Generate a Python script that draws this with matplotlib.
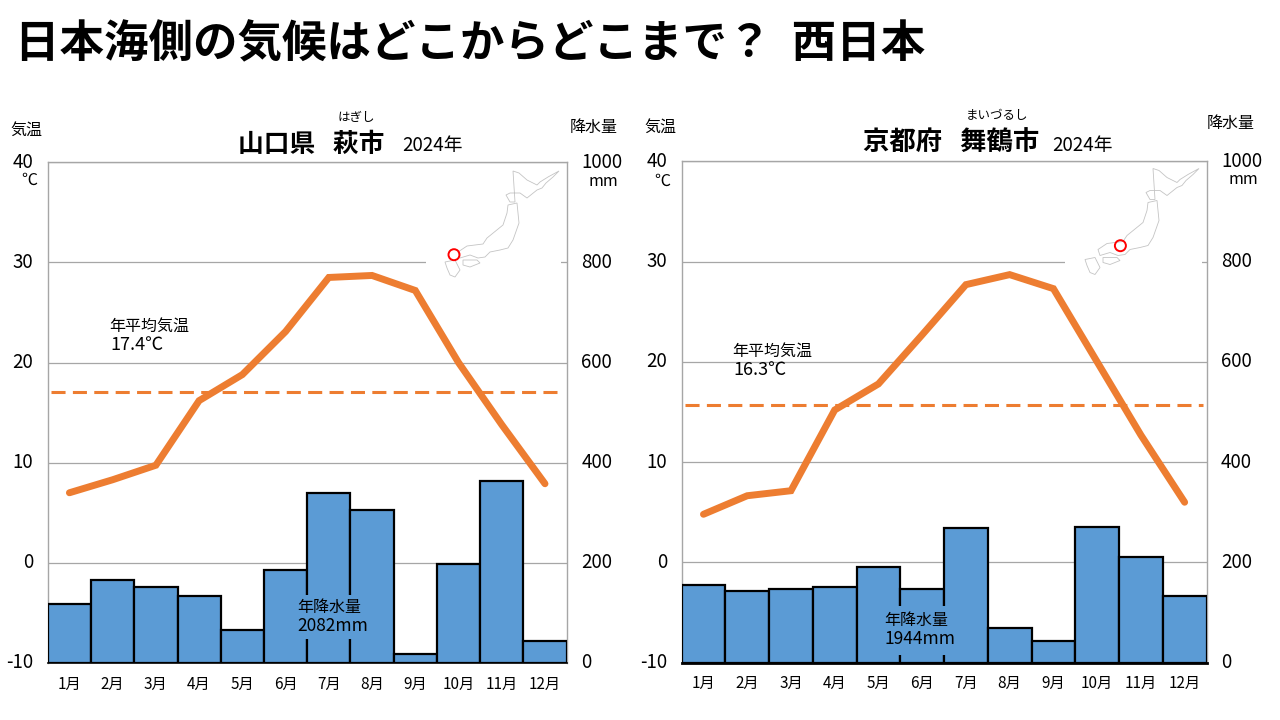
import matplotlib
matplotlib.use("Agg")
import matplotlib.pyplot as plt
from matplotlib.patches import Rectangle, Circle, Polygon
from matplotlib.transforms import ScaledTranslation

plt.rcParams['font.family'] = ['Noto Sans CJK JP', 'DejaVu Sans']
plt.rcParams['axes.unicode_minus'] = False

months = ['1月', '2月', '3月', '4月', '5月', '6月', '7月', '8月', '9月', '10月', '11月', '12月']
temp_ticks = [-10, 0, 10, 20, 30, 40]
rain_ticks = [0, 200, 400, 600, 800, 1000]

hagi_temp = [7.0, 8.3, 9.75, 16.2, 18.8, 23.1, 28.5, 28.7, 27.2, 20.0, 13.8, 7.9]
hagi_rain = [117, 165, 151, 133, 65, 185, 339, 305, 17, 197, 363, 43]
hagi_mean_line = 17.06

maizuru_temp = [4.8, 6.65, 7.15, 15.2, 17.8, 22.7, 27.7, 28.7, 27.3, 20.0, 12.7, 6.0]
maizuru_rain = [155, 143, 147, 151, 191, 147, 269, 69, 43, 271, 211, 133]
maizuru_mean_line = 15.66

ORANGE = '#ED7D31'
BLUE = '#5B9BD5'
GRID = '#A6A6A6'
W, H = 1280, 720

fig = plt.figure(figsize=(12.8, 7.2), dpi=100, facecolor='white')
nudge = ScaledTranslation(0, 0.025, fig.dpi_scale_trans)


def panel(x0, x1, y0, y1, temp, rain, mean_line, base_lw):
    rect = [x0 / W, 1 - y1 / H, (x1 - x0) / W, (y1 - y0) / H]
    ax = fig.add_axes(rect)
    tx = ax.twinx()

    ax.bar(range(12), rain, width=1.0, color=BLUE, edgecolor='black', linewidth=1.6, zorder=3)
    ax.set_xlim(-0.5, 11.5)
    ax.set_ylim(0, 1000)
    ax.yaxis.tick_right()
    ax.set_yticks(rain_ticks)
    ax.grid(axis='y', color=GRID, linewidth=0.9, zorder=0)
    ax.set_axisbelow(True)
    ax.set_xticks(range(12))
    ax.set_xticklabels(months, fontsize=11)
    ax.tick_params(axis='x', length=0, pad=9)
    ax.tick_params(axis='y', length=0, pad=10.5, labelsize=13.5)
    for s in ('left', 'top', 'right'):
        ax.spines[s].set_color(GRID)
        ax.spines[s].set_linewidth(1.0)
    ax.spines['bottom'].set_color('black')
    ax.spines['bottom'].set_linewidth(base_lw)
    ax.spines['bottom'].set_zorder(5)

    tx.set_ylim(-10, 40)
    tx.yaxis.tick_left()
    tx.set_yticks(temp_ticks)
    tx.tick_params(axis='y', length=0, pad=10.5, labelsize=13.5)
    tx.patch.set_visible(False)
    for s in tx.spines.values():
        s.set_visible(False)
    tx.plot(range(12), temp, color=ORANGE, linewidth=5.0, solid_capstyle='round',
            solid_joinstyle='miter', zorder=5)
    tx.plot([-0.42, 11.42], [mean_line, mean_line], color=ORANGE, linewidth=2.2,
            linestyle=(0, (4.6, 2.4)), dash_capstyle='butt', zorder=4)
    for lab in list(ax.get_yticklabels()) + list(tx.get_yticklabels()):
        lab.set_transform(lab.get_transform() + nudge)
    return ax, tx


panel(47.8, 566.6, 162.3, 663.0, hagi_temp, hagi_rain, hagi_mean_line, 1.2)
panel(681.6, 1206.5, 161.3, 662.7, maizuru_temp, maizuru_rain, maizuru_mean_line, 2.0)

# overlay in reference pixels, for free-standing text and the decorative map
ov = fig.add_axes([0, 0, 1, 1], zorder=20)
ov.set_xlim(0, W)
ov.set_ylim(H, 0)
ov.axis('off')
ov.patch.set_visible(False)


def t(x, y, s, size, ha='left', weight='normal'):
    ov.text(x, y, s, fontsize=size, ha=ha, va='center', fontweight=weight, color='black')


t(15, 44, '日本海側の気候はどこからどこまで？  西日本', 32, weight='bold')

# left panel texts
t(26, 130, '気温', 11.5, ha='center')
t(594, 127, '降水量', 11.5, ha='center')
t(29, 180, '℃', 11.5, ha='center')
t(603, 182, 'mm', 11.5, ha='center')
t(356, 117, 'はぎし', 9, ha='center')
t(311, 144, '山口県   萩市', 18.5, ha='center', weight='bold')
t(402, 146, '2024年', 13.5)
t(109, 326, '年平均気温', 11.5)
t(110, 345, '17.4℃', 13)

# right panel texts
t(660, 127, '気温', 11.5, ha='center')
t(1231, 123, '降水量', 11.5, ha='center')
t(662, 181, '℃', 11.5, ha='center')
t(1243, 179, 'mm', 11.5, ha='center')
t(997, 116, 'まいづるし', 9, ha='center')
t(951, 143, '京都府   舞鶴市', 19, ha='center', weight='bold')
t(1052, 146, '2024年', 13.5)
t(732, 351, '年平均気温', 11.5)
t(733, 370, '16.3℃', 13)

# annual-rain labels sit on a blue box that hides the bar edges
ov.add_patch(Rectangle((296, 595), 66, 44, facecolor=BLUE, edgecolor='none'))
t(297, 607, '年降水量', 11.5)
t(297, 626, '2082mm', 12.5)
ov.add_patch(Rectangle((884, 606), 64, 49, facecolor=BLUE, edgecolor='none'))
t(884, 620, '年降水量', 11.5)
t(885, 639, '1944mm', 12.5)

# decorative Japan outline, in pixels of the left map
hokkaido = [(513, 171), (519, 173), (527, 180), (537, 185), (540, 182), (548, 177), (559, 171),
            (553, 177), (546, 183), (542, 188), (537, 190), (527, 198), (520, 193), (510, 193),
            (506, 195), (510, 202), (515, 202)]
honshu = [(508, 205), (517, 203), (519, 223), (513, 240), (508, 248), (500, 250), (490, 252),
          (485, 257), (478, 258), (470, 255), (460, 258), (458, 252), (467, 246), (483, 244),
          (487, 238), (503, 225), (507, 213)]
shikoku = [(463, 260), (477, 260), (480, 263), (470, 267), (463, 265)]
kyushu = [(445, 262), (455, 260), (460, 270), (455, 277), (450, 275), (447, 268)]
islands = [hokkaido, honshu, shikoku, kyushu]


def jp_map(dx, dy, mask_x0, mask_x1, cx, cy):
    ov.add_patch(Rectangle((mask_x0, 165), mask_x1 - mask_x0, 125, facecolor='white', edgecolor='none'))
    for isl in islands:
        ov.add_patch(Polygon([(x + dx, y + dy) for x, y in isl], closed=True, facecolor='white',
                             edgecolor='#C4C4C4', linewidth=0.6))
    ov.add_patch(Circle((cx, cy), 5.5, facecolor='none', edgecolor='#FF0000', linewidth=1.4))


jp_map(0, 0, 426, 561, 454, 254.7)
jp_map(640, -2.5, 1064.5, 1202, 1120.4, 245.7)

fig.savefig('out.png', dpi=100)
